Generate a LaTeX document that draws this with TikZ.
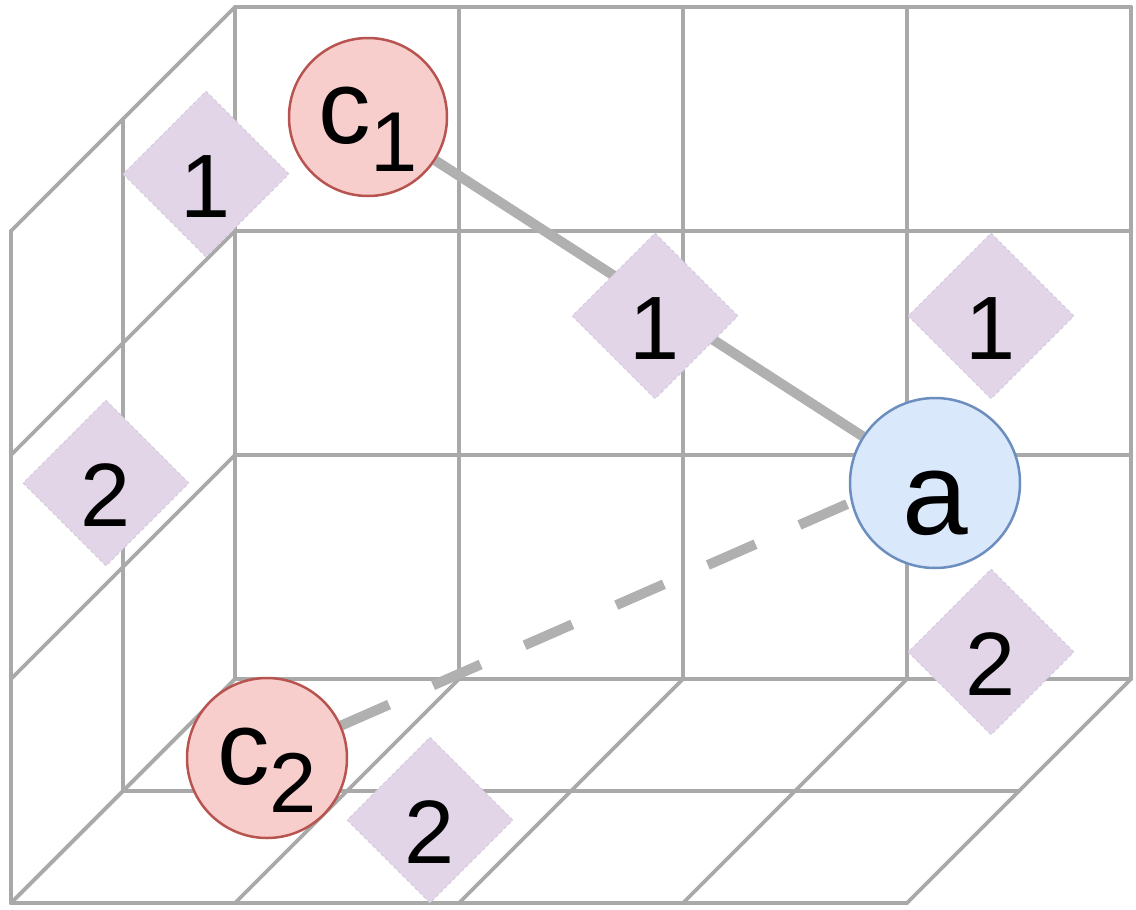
\documentclass[tikz,border=0pt]{standalone}
\usepackage{fontspec}
\setmainfont{Liberation Sans}
\usetikzlibrary{shapes.geometric}
\definecolor{gridc}{HTML}{A9A9A9}
\definecolor{edgec}{HTML}{B0B0B0}
\definecolor{cfill}{HTML}{F8CECC}
\definecolor{cstroke}{HTML}{B85450}
\definecolor{afill}{HTML}{DAE8FC}
\definecolor{astroke}{HTML}{6C8EBF}
\definecolor{dfill}{HTML}{E1D5E7}
\definecolor{dstroke}{HTML}{D6C9DE}
\pgfdeclarelayer{bg}
\pgfsetlayers{bg,main}
\newcommand{\subidx}[1]{\raisebox{-28pt}{\fontsize{85}{85}\selectfont #1}}
\begin{document}
\begin{tikzpicture}[x=1pt,y=-1pt,
  gridline/.style={draw=gridc, line width=3.8pt, line cap=round},
  edgeline/.style={draw=edgec, line width=10pt},
  cnode/.style={circle, minimum size=158pt, inner sep=0pt, fill=cfill, draw=cstroke,
    line width=2.5pt, font=\fontsize{105}{105}\selectfont, text height=80pt, text depth=28pt},
  anode/.style={circle, minimum size=170pt, inner sep=0pt, fill=afill, draw=astroke,
    line width=2.5pt, font=\fontsize{118}{118}\selectfont, text height=102pt, text depth=0pt},
  dnode/.style={diamond, minimum width=166pt, minimum height=166pt, inner sep=0pt,
    fill=dfill, draw=dstroke, dashed, line width=1pt,
    font=\fontsize{90}{90}\selectfont, text height=86pt, text depth=0pt}]
\useasboundingbox (0,0) rectangle (1136,910);

% nodes
\node[cnode] (c1) at (368,117) {c\subidx{1}};
\node[cnode, minimum size=160pt] (c2) at (267,758) {c\subidx{2}};
\node[anode] (a) at (935,483) {a};
\node[dnode] (d1l) at (206,174) {1};
\node[dnode] (d1m) at (655,316) {1};
\node[dnode] (d1r) at (991,316) {1};
\node[dnode] (d2l) at (106,483) {2};
\node[dnode] (d2r) at (991,652) {2};
\node[dnode] (d2b) at (430,820) {2};

\begin{pgfonlayer}{bg}
\begin{scope}[shift={(235pt,-7pt)}, x={(224pt,0pt)}, y={(0pt,-224pt)}, z={(-112pt,-112pt)}]
  % back face
  \foreach \i in {0,...,4} \draw[gridline] (\i,0,0) -- (\i,3,0);
  \foreach \j in {0,...,3} \draw[gridline] (0,\j,0) -- (4,\j,0);
  % left face
  \foreach \k in {1,2} \draw[gridline] (0,0,\k) -- (0,3,\k);
  \foreach \j in {0,...,3} \draw[gridline] (0,\j,0) -- (0,\j,2);
  % bottom face
  \foreach \k in {1,2} \draw[gridline] (0,3,\k) -- (4,3,\k);
  \foreach \i in {0,...,4} \draw[gridline] (\i,3,0) -- (\i,3,2);
\end{scope}
\draw[edgeline] (c1) -- (a);
\draw[edgeline, dash pattern=on 52pt off 48pt] (c2) -- (a.193);
\end{pgfonlayer}
\end{tikzpicture}
\end{document}
